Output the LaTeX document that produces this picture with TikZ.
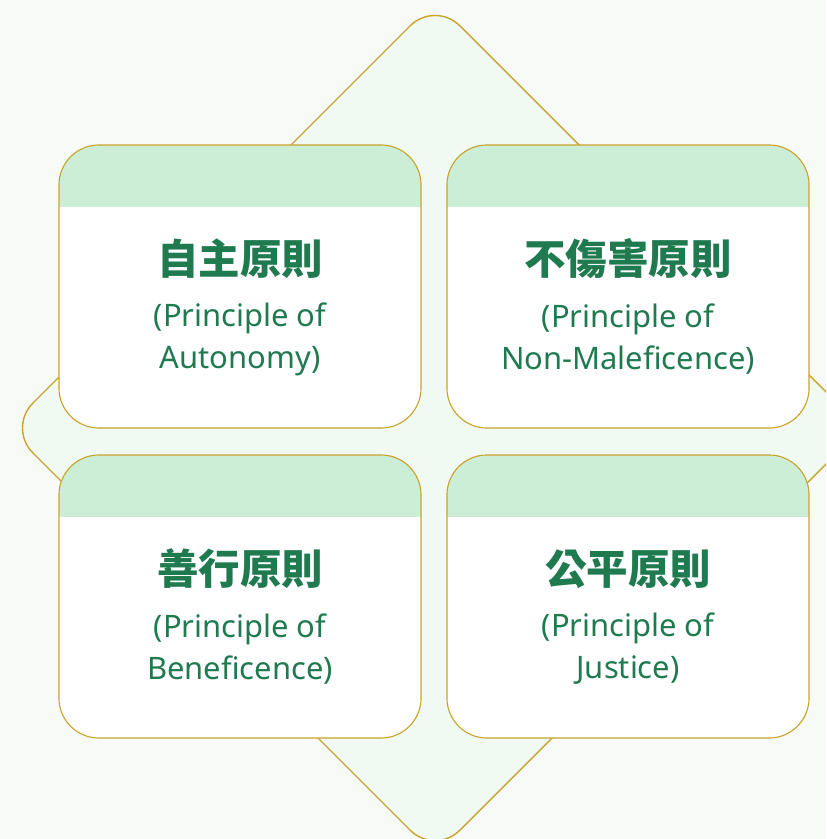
\documentclass[tikz,border=0pt]{standalone}
\usepackage{fontspec}
\setmainfont{Noto Sans}
\newfontfamily\cjkfont{Noto Sans CJK TC}
\definecolor{bgpage}{HTML}{F8FAF8}
\definecolor{dmfill}{HTML}{F0F9F2}
\definecolor{gold}{HTML}{C9A42A}
\definecolor{hdgreen}{HTML}{CCEED6}
\definecolor{txgreen}{HTML}{1F7A50}
\usepackage{tikz}

\begin{document}
\begin{tikzpicture}[x=0.025cm, y=-0.025cm,
  card/.style={rounded corners=1cm, minimum width=9.05cm, minimum height=7.075cm,
               draw=gold, line width=0.8pt, fill=white, inner sep=0pt,
               path picture={\fill[hdgreen, sharp corners] (path picture bounding box.north west)
                 rectangle ([yshift=-1.55cm]path picture bounding box.north east);}},
  ttl/.style={font=\cjkfont\bfseries\fontsize{29.5}{33}\selectfont, text=txgreen},
  sub/.style={font=\fontsize{22}{30}\selectfont, text=txgreen, align=center}
]
  \useasboundingbox[fill=bgpage] (0,0) rectangle (826,839);

  % Diamond behind
  \begin{scope}
    \clip (0,0) rectangle (826,839);
    \draw[fill=dmfill, draw=gold, line width=1pt, rounded corners=0.875cm]
      (435,1) -- (862,428) -- (435,855) -- (8,428) -- cycle;
  \end{scope}

  % Cards
  \node[card] (cAut) at (240,286.5) {};
  \node[card] (cNon) at (628,286.5) {};
  \node[card] (cBen) at (240,596.5) {};
  \node[card] (cJus) at (628,596.5) {};

  % Titles
  \node[ttl] (tAut) at (240,259) {自主原則};
  \node[ttl] (tNon) at (628,259) {不傷害原則};
  \node[ttl] (tBen) at (240,569) {善行原則};
  \node[ttl] (tJus) at (628,569) {公平原則};

  % Subtitles
  \node[sub] (sAut) at (240,339) {(Principle of\\Autonomy)};
  \node[sub] (sNon) at (628,339) {(Principle of\\Non-Maleficence)};
  \node[sub] (sBen) at (240,649) {(Principle of\\Beneficence)};
  \node[sub] (sJus) at (628,649) {(Principle of\\Justice)};
\end{tikzpicture}
\end{document}
